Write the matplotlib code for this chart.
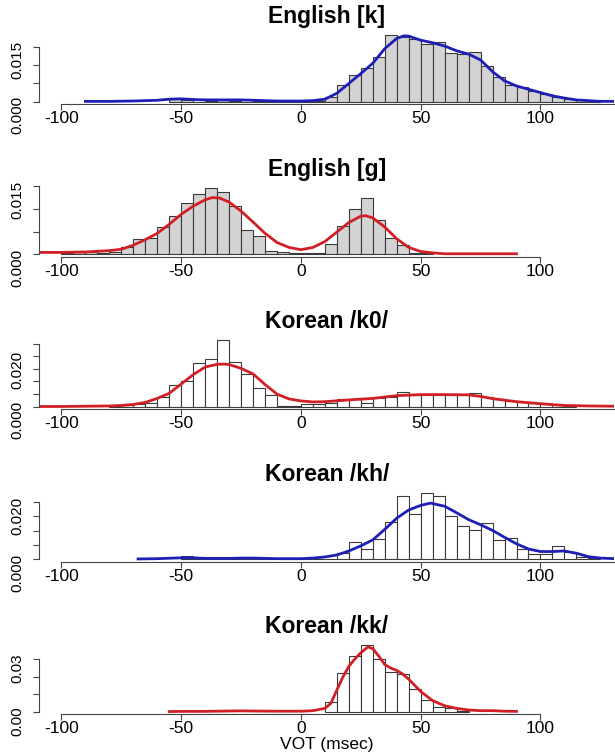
import matplotlib.pyplot as plt
import numpy as np

plt.rcParams['font.family'] = ['Liberation Sans', 'DejaVu Sans']

titles = ['English [k]', 'English [g]', 'Korean /k0/', 'Korean /kh/', 'Korean /kk/']
bin_width = 5

# histograms: left edge of the first 5-msec bin, then the densities
eng_k_start = -55
eng_k_hist = [0.0007, 0.0005, 0.0, 0.0003, 0.0004, 0.0003, 0.0, 0.0003, 0.0, 0.0, 0.0, 0.0,
              0.0002, 0.0014, 0.0047, 0.0073, 0.0091, 0.0121, 0.0182, 0.0177, 0.0170, 0.0157,
              0.0164, 0.0132, 0.0130, 0.0135, 0.0097, 0.0068, 0.0045, 0.0041, 0.0030, 0.0020,
              0.0014, 0.0007, 0.0005, 0.0002]

eng_g_start = -100
eng_g_hist = [0.0002, 0.0008, 0.0005, 0.0003, 0.0004, 0.0015, 0.0033, 0.0036, 0.0059, 0.0084,
              0.0114, 0.0133, 0.0147, 0.0138, 0.0107, 0.0053, 0.0041, 0.0008, 0.0006, 0.0002,
              0.0003, 0.0003, 0.0023, 0.0063, 0.0099, 0.0124, 0.0075, 0.0036, 0.0020, 0.0002,
              0.0003]

kor_k0_start = -80
kor_k0_hist = [0.0003, 0.0005, 0.0009, 0.0016, 0.0037, 0.0088, 0.0100, 0.0172, 0.0189, 0.0264,
               0.0176, 0.0128, 0.0073, 0.0047, 0.0004, 0.0003, 0.0010, 0.0012, 0.0016, 0.0032,
               0.0029, 0.0016, 0.0033, 0.0037, 0.0060, 0.0047, 0.0047, 0.0047, 0.0047, 0.0047,
               0.0055, 0.0040, 0.0029, 0.0023, 0.0017, 0.0013, 0.0009, 0.0005, 0.0003]

kor_kh_start = -50
kor_kh_hist = [0.0010, 0.0, 0.0, 0.0, 0.0, 0.0, 0.0, 0.0, 0.0, 0.0, 0.0, 0.0, 0.0,
               0.0021, 0.0060, 0.0035, 0.0071, 0.0132, 0.0222, 0.0158, 0.0234, 0.0222, 0.0152,
               0.0115, 0.0103, 0.0126, 0.0066, 0.0073, 0.0035, 0.0019, 0.0019, 0.0048, 0.0027,
               0.0009, 0.0005]

kor_kk_start = 10
kor_kk_hist = [0.0054, 0.0220, 0.0319, 0.0379, 0.0302, 0.0228, 0.0214, 0.0132, 0.0065, 0.0029,
               0.0019, 0.0004]

# density curves
eng_k_x = [-90, -80, -70, -60, -55, -50, -45, -40, -35, -30, -25, -20, -15, -10, -5, 0, 5, 10,
           15, 20, 25, 30, 35, 40, 43, 45, 50, 55, 60, 65, 70, 75, 80, 85, 90, 95, 100, 105,
           110, 115, 120, 125, 131]
eng_k_y = [0.0001, 0.0001, 0.0002, 0.0004, 0.0007, 0.0008, 0.0006, 0.0005, 0.0005, 0.0005,
           0.0005, 0.0004, 0.0003, 0.0002, 0.0002, 0.0002, 0.0003, 0.0007, 0.0023, 0.0050,
           0.0077, 0.0105, 0.0145, 0.0173, 0.0180, 0.0179, 0.0168, 0.0161, 0.0152, 0.0139,
           0.0130, 0.0114, 0.0082, 0.0057, 0.0043, 0.0034, 0.0025, 0.0016, 0.0010, 0.0005,
           0.0003, 0.0001, 0.0001]

eng_g_x = [-110, -100, -90, -80, -75, -70, -65, -60, -55, -50, -45, -40, -37, -34, -30, -25,
           -20, -15, -10, -5, 0, 5, 10, 15, 20, 25, 27, 30, 35, 40, 45, 50, 55, 60, 70, 80, 90]
eng_g_y = [0.0004, 0.0004, 0.0005, 0.0008, 0.0011, 0.0020, 0.0032, 0.0046, 0.0066, 0.0088,
           0.0106, 0.0120, 0.0125, 0.0124, 0.0115, 0.0095, 0.0071, 0.0046, 0.0026, 0.0015,
           0.0010, 0.0015, 0.0028, 0.0049, 0.0070, 0.0084, 0.0085, 0.0080, 0.0060, 0.0034,
           0.0015, 0.0006, 0.0003, 0.0001, 0.0001, 0.0001, 0.0001]

kor_k0_x = [-110, -100, -90, -80, -75, -70, -65, -60, -55, -50, -45, -40, -35, -32, -30, -25,
            -20, -15, -10, -5, 0, 5, 10, 20, 30, 40, 50, 60, 70, 75, 80, 90, 100, 110, 120, 131]
kor_k0_y = [0.0001, 0.0001, 0.0002, 0.0003, 0.0005, 0.0009, 0.0017, 0.0033, 0.0053, 0.0090,
            0.0127, 0.0157, 0.0168, 0.0169, 0.0167, 0.0152, 0.0130, 0.0088, 0.0050, 0.0031,
            0.0023, 0.0019, 0.0020, 0.0027, 0.0033, 0.0044, 0.0048, 0.0048, 0.0047, 0.0041,
            0.0032, 0.0020, 0.0012, 0.0005, 0.0003, 0.0002]

kor_kh_x = [-68, -60, -50, -45, -40, -30, -25, -20, -10, 0, 5, 10, 15, 20, 25, 30, 35, 40, 45,
            50, 54, 60, 65, 70, 75, 80, 85, 90, 95, 100, 105, 110, 115, 120, 125, 131]
kor_kh_y = [0.0001, 0.0002, 0.0005, 0.0005, 0.0003, 0.0003, 0.0004, 0.0004, 0.0002, 0.0002,
            0.0004, 0.0008, 0.0015, 0.0029, 0.0047, 0.0068, 0.0105, 0.0144, 0.0173, 0.0189,
            0.0197, 0.0186, 0.0163, 0.0139, 0.0121, 0.0101, 0.0077, 0.0054, 0.0036, 0.0027,
            0.0027, 0.0029, 0.0021, 0.0009, 0.0004, 0.0002]

kor_kk_x = [-55, -50, -40, -30, -25, -20, -10, -5, 0, 5, 10, 12.5, 15, 17.5, 20, 22.5, 25, 28,
            30, 32.5, 35, 37.5, 40, 42.5, 45, 50, 55, 60, 65, 70, 75, 80, 85, 90]
kor_kk_y = [0.0001, 0.0002, 0.0002, 0.0004, 0.0005, 0.0004, 0.0003, 0.0003, 0.0003, 0.0006,
            0.0019, 0.0048, 0.0124, 0.0197, 0.0258, 0.0300, 0.0335, 0.0369, 0.0358, 0.0316,
            0.0268, 0.0248, 0.0235, 0.0214, 0.0185, 0.0115, 0.0063, 0.0034, 0.0019, 0.0010,
            0.0006, 0.0006, 0.0003, 0.0002]

# y axis ticks and the labels R kept
y_ticks = [[0, 0.005, 0.010, 0.015], [0, 0.005, 0.010, 0.015],
           [0, 0.005, 0.010, 0.015, 0.020, 0.025], [0, 0.005, 0.010, 0.015, 0.020],
           [0, 0.01, 0.02, 0.03]]
y_labels = [['0.000', '', '', '0.015'], ['0.000', '', '', '0.015'],
            ['0.000', '', '', '', '0.020', ''], ['0.000', '', '', '', '0.020'],
            ['0.00', '', '', '0.03']]
x_ticks = [-100, -50, 0, 50, 100]

starts = [eng_k_start, eng_g_start, kor_k0_start, kor_kh_start, kor_kk_start]
hists = [eng_k_hist, eng_g_hist, kor_k0_hist, kor_kh_hist, kor_kk_hist]
curves = [(eng_k_x, eng_k_y), (eng_g_x, eng_g_y), (kor_k0_x, kor_k0_y),
          (kor_kh_x, kor_kh_y), (kor_kk_x, kor_kk_y)]
fills = ['#d3d3d3', '#d3d3d3', 'white', 'white', 'white']
line_colors = ['#1f1fb8', '#d11f26', '#d11f26', '#1f1fb8', '#d11f26']
axis_ends = [130.7, 100, 130.7, 130.7, 100]

W, H = 615, 752
x_lo, x_hi = -109.2, 130.7
fig = plt.figure(figsize=(W / 100, H / 100), dpi=100)

for i in range(5):
    bottom_px = 104.4 + 152.5 * i
    ax = fig.add_axes([39.4 / W, 1 - bottom_px / H, (614 - 39.4) / W, 72 / H])

    heights = hists[i]
    lefts = starts[i] + bin_width * np.arange(len(heights))
    ax.bar(lefts, heights, width=bin_width, align='edge', color=fills[i],
           edgecolor='#3a3a3a', linewidth=0.8)
    ax.plot(curves[i][0], curves[i][1], color=line_colors[i], lw=2.0,
            solid_joinstyle='round')

    top = max(heights)
    ax.set_ylim(-0.04 * top, 1.04 * top)
    ax.set_xlim(x_lo, x_hi)

    for s in ['top', 'right']:
        ax.spines[s].set_visible(False)
    for s in ['left', 'bottom']:
        ax.spines[s].set_color('#444444')
        ax.spines[s].set_linewidth(0.8)
    ax.spines['left'].set_bounds(0, y_ticks[i][-1])
    ax.spines['bottom'].set_bounds(-100, axis_ends[i])

    ax.set_xticks(x_ticks)
    ax.set_xticklabels([str(t) for t in x_ticks])
    ax.set_yticks(y_ticks[i])
    ax.set_yticklabels(y_labels[i])
    ax.tick_params(axis='both', direction='out', length=4, width=0.8, color='#444444')
    ax.tick_params(axis='x', pad=1, labelsize=12.5)
    ax.tick_params(axis='y', pad=7, labelrotation=90, labelsize=11)

    ax.text(0.5, 1 + 15.5 / 72, titles[i], transform=ax.transAxes, ha='center',
            va='center', fontsize=16.5, fontweight='bold')

fig.text((39.4 + 614) / 2 / W, 1 - 744 / H, 'VOT (msec)', ha='center', va='center',
         fontsize=12.5)

fig.savefig('out.png', dpi=100)
